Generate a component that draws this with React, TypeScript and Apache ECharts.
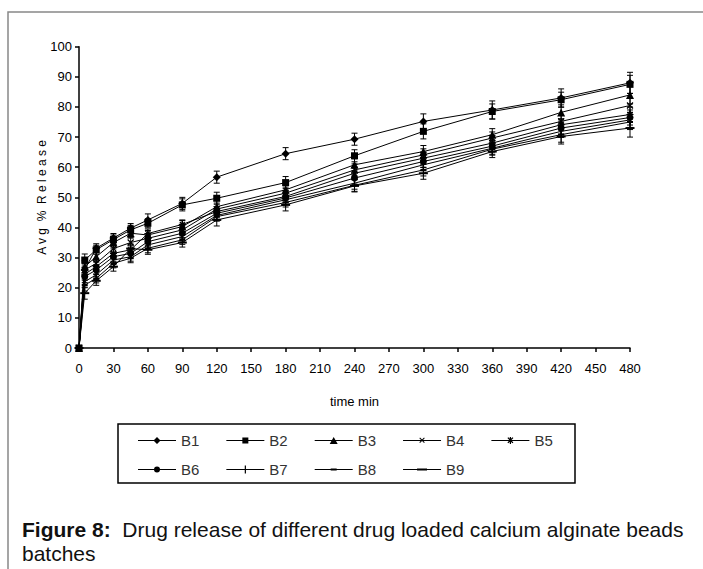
import React, { useEffect, useRef } from "react";
import * as echarts from "echarts";

const times = [0, 5, 15, 30, 45, 60, 90, 120, 180, 240, 300, 360, 420, 480];
const seriesNames = ["B1", "B2", "B3", "B4", "B5", "B6", "B7", "B8", "B9"];

const B1 = [0, 26, 33.1, 36.5, 39.8, 42.5, 48, 56.7, 64.5, 69.3, 75.2, 79, 83, 88];
const B2 = [0, 29.2, 32.6, 36, 39.2, 41.4, 47.5, 49.7, 54.9, 63.8, 71.9, 78.5, 82.4, 87.5];
const B3 = [0, 27, 30.3, 35, 38.1, 37.5, 40.3, 46.9, 52.5, 60.8, 65.2, 70.8, 78.2, 84];
const B4 = [0, 25.9, 28.1, 33, 35, 36.4, 39.2, 46.1, 51.4, 59.1, 64.1, 69.7, 75.2, 80.5];
const B5 = [0, 24.5, 27, 31.4, 32.6, 38, 41, 45.3, 50.3, 58, 63, 68, 74.1, 77.5];
const B6 = [0, 23.7, 25.9, 30.3, 31.4, 35.3, 38.1, 44.7, 49.8, 56.4, 61.9, 67, 73, 76.5];
const B7 = [0, 22, 24.3, 29.2, 30.3, 34.2, 37, 44, 49.2, 54.7, 60.8, 66.3, 71.9, 75.7];
const B8 = [0, 20.9, 23.1, 28.1, 29.8, 33.1, 35.9, 43.6, 48.3, 54, 59.1, 66, 70.8, 75];
const B9 = [0, 18.2, 22.3, 27, 33, 32.6, 35, 42.5, 47.5, 53.8, 58, 65.2, 70.2, 73];

const errB1 = [0, 2, 1.5, 1.5, 1.5, 2, 2, 2, 2, 2, 2.5, 3, 3, 3.5];
const errB2 = [0, 2, 1.5, 1.5, 1.5, 1.5, 2, 2, 2, 2, 2.5, 2.5, 2.5, 3];
const errB3 = [0, 2, 1.5, 1.5, 1.5, 1.5, 2, 2, 2, 2, 2, 2, 2.5, 3];
const errB4 = [0, 2, 1.5, 1.5, 1.5, 1.5, 1.5, 2, 2, 2, 2, 2, 2, 2.5];
const errB5 = [0, 2, 1.5, 1.5, 1.5, 1.5, 1.5, 1.5, 1.5, 2, 2, 2, 2, 2.5];
const errB6 = [0, 2, 1.5, 1.5, 1.5, 1.5, 1.5, 1.5, 1.5, 2, 2, 2, 2, 2.5];
const errB7 = [0, 2, 1.5, 1.5, 1.5, 1.5, 1.5, 1.5, 1.5, 2, 2, 2, 2, 2.5];
const errB8 = [0, 2, 1.5, 1.5, 1.5, 1.5, 1.5, 1.5, 1.5, 2, 2, 2, 2.5, 2.5];
const errB9 = [0, 2, 1.5, 1.5, 1.5, 1.5, 1.5, 2, 2, 2, 2, 2, 2.5, 3];

const xTicks = { min: 0, max: 480, interval: 30 };
const yTicks = { min: 0, max: 100, interval: 10 };

const values = [B1, B2, B3, B4, B5, B6, B7, B8, B9];
const errors = [errB1, errB2, errB3, errB4, errB5, errB6, errB7, errB8, errB9];

const symbols: any[] = [
  { symbol: "diamond", size: 8 },
  { symbol: "rect", size: 7 },
  { symbol: "triangle", size: 8 },
  { symbol: "path://M0,0L10,10M10,0L0,10", size: 6 },
  { symbol: "path://M0,5L10,5M5,0L5,10M1.5,1.5L8.5,8.5M8.5,1.5L1.5,8.5", size: 7 },
  { symbol: "circle", size: 7 },
  { symbol: "rect", size: [1.5, 8] },
  { symbol: "rect", size: [6, 2] },
  { symbol: "rect", size: [9, 2] },
];

// legend icons drawn in a 38x10 box: line plus marker
const BOX = "M0,0L0,0Z M38,10L38,10Z ";
const LINE = "M0,4.5L38,4.5L38,5.5L0,5.5Z ";
const legendIcons = [
  "M19,1.5L22.5,5L19,8.5L15.5,5Z",
  "M16,2L22,2L22,8L16,8Z",
  "M19,1.5L23,8.5L15,8.5Z",
  "M16.3,2.7L17,2L21.7,6.7L21,7.4Z M21,2L21.7,2.7L17,7.4L16.3,6.7Z",
  "M16,2.6L17,1.8L22,7L21,7.8Z M21,1.8L22,2.6L17,7.8L16,7Z M18.4,1.5L19.6,1.5L19.6,8.5L18.4,8.5Z",
  "M19,2A3,3 0 1,1 19,8A3,3 0 1,1 19,2Z",
  "M18.4,1L19.6,1L19.6,9L18.4,9Z",
  "M16,4L22,4L22,6L16,6Z",
  "M14,4L24,4L24,6L14,6Z",
];

const FONT = "Liberation Sans";

export default function App() {
  const ref = useRef<HTMLDivElement>(null);
  useEffect(() => {
    if (!ref.current) return;
    const chart = echarts.init(ref.current, null, { renderer: "svg" });
    const lineSeries = seriesNames.map((name, i) => ({
      name,
      type: "line",
      data: times.map((t, j) => [t, values[i][j]]),
      symbol: symbols[i].symbol,
      symbolSize: symbols[i].size,
      showSymbol: true,
      lineStyle: { color: "#000", width: 1 },
      itemStyle: { color: "#000", borderColor: "#000", borderWidth: i === 3 || i === 4 ? 1.2 : 0 },
      z: 3,
    }));
    const errSeries = seriesNames.map((name, i) => ({
      name: name + " err",
      type: "custom",
      silent: true,
      z: 2,
      data: times.map((t, j) => [t, values[i][j], errors[i][j]]),
      encode: { x: 0, y: 1 },
      renderItem: (params: any, api: any) => {
        const x = api.value(0);
        const y = api.value(1);
        const e = api.value(2);
        if (!e) return { type: "group", children: [] };
        const hi = api.coord([x, y + e]);
        const lo = api.coord([x, y - e]);
        const w = 3;
        const st = { stroke: "#000", lineWidth: 1 };
        return {
          type: "group",
          children: [
            { type: "line", shape: { x1: hi[0], y1: hi[1], x2: lo[0], y2: lo[1] }, style: st },
            { type: "line", shape: { x1: hi[0] - w, y1: hi[1], x2: hi[0] + w, y2: hi[1] }, style: st },
            { type: "line", shape: { x1: lo[0] - w, y1: lo[1], x2: lo[0] + w, y2: lo[1] }, style: st },
          ],
        };
      },
    }));
    const legendCommon = {
      orient: "horizontal",
      itemWidth: 38,
      itemHeight: 10,
      itemGap: 27,
      textStyle: { fontFamily: FONT, fontSize: 15, color: "#333" },
      itemStyle: { color: "#000", borderWidth: 0 },
      selectedMode: false,
    };
    const legendItem = (i: number) => ({
      name: seriesNames[i],
      icon: "path://" + BOX + LINE + legendIcons[i],
    });
    chart.setOption({
      animation: false,
      backgroundColor: "#fff",
      textStyle: { fontFamily: FONT },
      grid: { left: 79, right: 73, top: 46.7, bottom: 221, outerBoundsMode: "none", containLabel: false },
      xAxis: {
        type: "value",
        min: xTicks.min,
        max: xTicks.max,
        interval: xTicks.interval,
        name: "time min",
        nameLocation: "middle",
        nameGap: 47,
        nameMoveOverlap: false,
        nameTextStyle: { fontFamily: FONT, fontSize: 13, color: "#000" },
        axisLine: { lineStyle: { color: "#000", width: 1.5 } },
        axisTick: { show: true, length: 4, lineStyle: { color: "#000", width: 1.5 } },
        axisLabel: { fontFamily: FONT, fontSize: 13, color: "#000", margin: 14 },
        splitLine: { show: false },
      },
      yAxis: {
        type: "value",
        min: yTicks.min,
        max: yTicks.max,
        interval: yTicks.interval,
        name: "A v g  %  R e l e a s e",
        nameLocation: "middle",
        nameGap: 31,
        nameMoveOverlap: false,
        nameTextStyle: { fontFamily: FONT, fontSize: 12, color: "#000" },
        axisLine: { show: true, lineStyle: { color: "#000", width: 1.5 } },
        axisTick: { show: true, length: 4, lineStyle: { color: "#000", width: 1.5 } },
        axisLabel: { fontFamily: FONT, fontSize: 13, color: "#000", margin: 7 },
        splitLine: { show: false },
      },
      legend: [
        { ...legendCommon, left: 133, top: 428, data: [0, 1, 2, 3, 4].map(legendItem) },
        { ...legendCommon, left: 133, top: 457, data: [5, 6, 7, 8].map(legendItem) },
      ],
      graphic: [
        {
          type: "rect",
          shape: { x: 8, y: 12, width: 720, height: 620 },
          style: { fill: "none", stroke: "#888", lineWidth: 1.5 },
          silent: true,
        },
        {
          type: "rect",
          shape: { x: 118, y: 424, width: 457, height: 59 },
          style: { fill: "none", stroke: "#000", lineWidth: 1.5 },
          silent: true,
        },
        {
          type: "text",
          left: 22,
          top: 517,
          style: {
            text: "{b|Figure 8:}  Drug release of different drug loaded calcium alginate beads\nbatches",
            fontFamily: FONT,
            fontSize: 21,
            lineHeight: 24,
            fill: "#111",
            rich: { b: { fontWeight: "bold", fontFamily: FONT, fontSize: 21, fill: "#111" } },
          },
        },
      ],
      series: [...errSeries, ...lineSeries],
    });
    return () => chart.dispose();
  }, []);
  return <div ref={ref} style={{ position: "fixed", left: 0, top: 0, width: 703, height: 569 }} />;
}
